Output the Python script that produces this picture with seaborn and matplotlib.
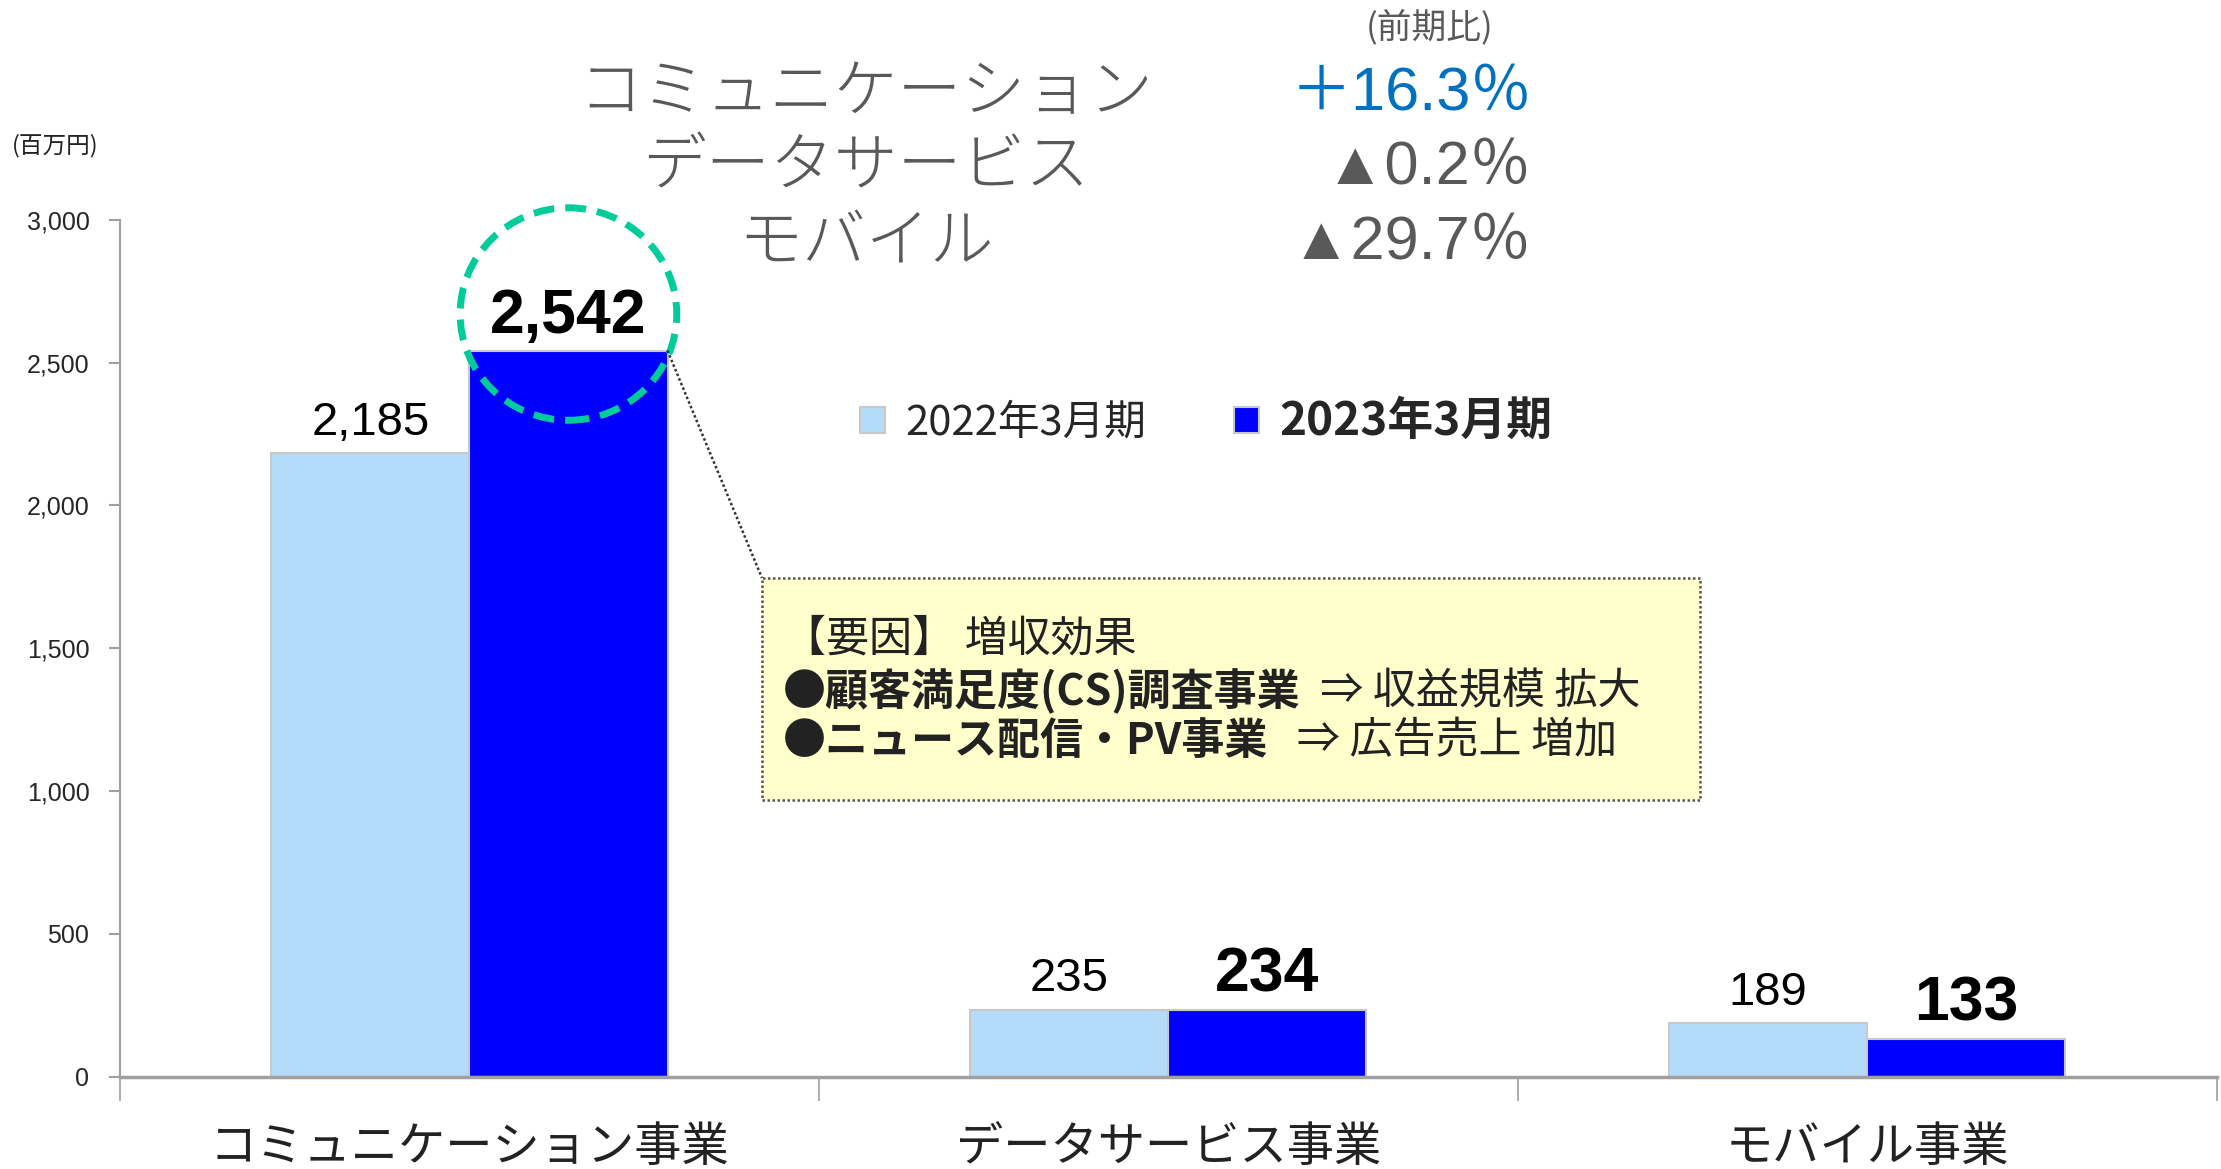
import seaborn as sns
import matplotlib.pyplot as plt
import pandas as pd
from matplotlib.patches import Ellipse, FancyBboxPatch
from matplotlib.text import Annotation
from matplotlib.ticker import FuncFormatter, FixedLocator

# segments and fiscal years
segments = ["コミュニケーション事業", "データサービス事業", "モバイル事業"]
periods = ["2022年3月期", "2023年3月期"]
sales_2022 = [2185, 235, 189]
sales_2023 = [2542, 234, 133]

# year-on-year change shown at the top
yoy_names = ["コミュニケーション", "データサービス", "モバイル"]
yoy_values = ["＋16.3％", "▲0.2％", "▲29.7％"]
yoy_colors = ["#0070C0", "#595959", "#595959"]

JP = ["Noto Sans CJK JP", "DejaVu Sans"]
NUM = ["Liberation Sans", "Noto Sans CJK JP", "DejaVu Sans"]


def main():
    sns.set_theme(style="white")
    plt.rcParams["font.family"] = JP

    df = pd.DataFrame({
        "segment": segments * 2,
        "period": [periods[0]] * 3 + [periods[1]] * 3,
        "sales": sales_2022 + sales_2023,
    })

    fig = plt.figure(figsize=(22.21, 11.69), dpi=100)
    ax = fig.add_axes([0.054, 0.079, 0.944, 0.733])

    sns.barplot(data=df, x="segment", y="sales", hue="period",
                palette=["#B4DCFA", "#0000FF"], width=0.567, gap=0,
                edgecolor="#C8C8C8", linewidth=1.5, saturation=1, ax=ax)

    ax.set_xlim(-0.5, 2.5)
    ax.set_ylim(0, 3000)
    ax.set_xlabel("")
    ax.set_ylabel("")

    # axes look
    for s in ["top", "right"]:
        ax.spines[s].set_visible(False)
    ax.spines["left"].set_color("#A0A0A0")
    ax.spines["left"].set_linewidth(1.5)
    ax.spines["bottom"].set_color("#A0A0A0")
    ax.spines["bottom"].set_linewidth(2.5)

    ax.set_yticks(range(0, 3001, 500))
    ax.yaxis.set_major_formatter(FuncFormatter(lambda v, p: f"{int(v):,}"))
    ax.tick_params(axis="y", direction="out", length=8, width=1.5, color="#A0A0A0",
                   labelsize=18, pad=14, left=True)
    for t in ax.get_yticklabels():
        t.set_family(NUM)

    ax.tick_params(axis="x", which="major", length=0, labelsize=34, pad=34, labelcolor="#222222")
    ax.xaxis.set_minor_locator(FixedLocator([-0.5, 0.5, 1.5, 2.5]))
    ax.tick_params(axis="x", which="minor", length=17, width=1.2, color="#A0A0A0", bottom=True)

    # value labels
    light_bars = ax.containers[0]
    dark_bars = ax.containers[1]
    for bar, v in zip(light_bars, sales_2022):
        ax.annotate(f"{v:,}", (bar.get_x() + bar.get_width() / 2, v),
                    xytext=(0, 13), textcoords="offset points", ha="center", va="baseline",
                    fontsize=34, family=NUM, color="black")
    for bar, v in zip(dark_bars, sales_2023):
        ax.annotate(f"{v:,}", (bar.get_x() + bar.get_width() / 2, v),
                    xytext=(0, 13), textcoords="offset points", ha="center", va="baseline",
                    fontsize=45, fontweight="bold", family=NUM, color="black")

    # dashed circle around the highlighted value
    hb = dark_bars[0]
    cx = hb.get_x() + hb.get_width() / 2
    circ = Ellipse((cx, sales_2023[0] + 128), width=0.31, height=744, fill=False,
                   edgecolor="#00CC99", linewidth=5, linestyle=(0, (3, 1.6)),
                   clip_on=False, zorder=5)
    ax.add_patch(circ)

    # legend
    leg = ax.legend(loc="upper left", bbox_to_anchor=(0.335, 0.835), ncol=2, frameon=False,
                    fontsize=30, handlelength=0.6, handleheight=0.6, columnspacing=2.1,
                    handletextpad=0.5)
    for h in leg.legend_handles:
        h.set_edgecolor("#C8C8C8")
    leg.get_texts()[1].set_fontweight("bold")
    leg.get_texts()[1].set_fontsize(33)

    # callout box
    bx0, by0, bx1, by1 = 762 / 2221, 1 - 800 / 1169, 1700 / 2221, 1 - 578 / 1169
    box = FancyBboxPatch((bx0, by0), bx1 - bx0, by1 - by0, boxstyle="square,pad=0",
                         transform=fig.transFigure, facecolor="#FFFFCC",
                         edgecolor="#555555", linewidth=1.8, linestyle=(0, (1, 1)), zorder=3)
    fig.patches.append(box)

    # connector from bar corner to box
    fig.canvas.draw()
    corner = ax.transData.transform((hb.get_x() + hb.get_width(), sales_2023[0]))
    corner = fig.transFigure.inverted().transform(corner)
    fig.add_artist(plt.Line2D([corner[0], bx0], [corner[1], by1], transform=fig.transFigure,
                              color="#333333", linewidth=1.8, linestyle=(0, (1, 1))))

    tx = 783 / 2221
    fs = 31
    fig.text(tx, 1 - 640 / 1169, "【要因】 増収効果", fontsize=fs, va="center", ha="left",
             color="#222222", zorder=4)
    lines = [("●顧客満足度(CS)調査事業", "  ⇒ 収益規模 拡大", 691),
             ("●ニュース配信・PV事業", "   ⇒ 広告売上 増加", 741)]
    for bold_part, plain_part, ly in lines:
        t = fig.text(tx, 1 - ly / 1169, bold_part, fontsize=fs, fontweight="bold",
                     va="center", ha="left", color="#222222", zorder=4)
        fig.add_artist(Annotation(plain_part, xy=(1, 0), xycoords=t, va="bottom", ha="left",
                                  fontsize=fs, color="#222222", zorder=4))

    # unit label
    fig.text(12 / 2221, 1 - 146 / 1169, "(百万円)", fontsize=17, va="center", ha="left", color="#222222")

    # year-on-year block
    fig.text(1430 / 2221, 1 - 27 / 1169, "(前期比)", fontsize=25, va="center", ha="center",
             color="#595959")
    rows_y = [94, 168, 243]
    for name, val, col, ry in zip(yoy_names, yoy_values, yoy_colors, rows_y):
        fig.text(866 / 2221, 1 - ry / 1169, name, fontsize=46, fontweight="light",
                 va="center", ha="center", color="#595959")
        fig.text(1532 / 2221, 1 - ry / 1169, val, fontsize=44, family=NUM,
                 va="center", ha="right", color=col)

    fig.savefig("out.png", dpi=100)


if __name__ == "__main__":
    main()
